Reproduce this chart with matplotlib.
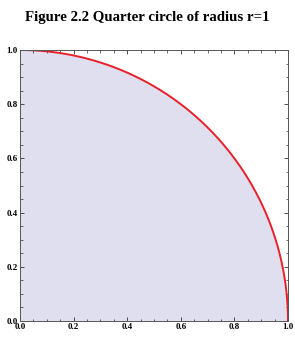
import numpy as np
import matplotlib
matplotlib.use("Agg")
import matplotlib.pyplot as plt
from matplotlib.ticker import MultipleLocator

title = "Figure 2.2 Quarter circle of radius r=1"
radius = 1.0
tick_values = [0.0, 0.2, 0.4, 0.6, 0.8, 1.0]
tick_labels = ["0.0", "0.2", "0.4", "0.6", "0.8", "1.0"]

theta = np.linspace(0, np.pi / 2, 400)
x = radius * np.cos(theta)
y = radius * np.sin(theta)
order = np.argsort(x)
x, y = x[order], y[order]

plt.rcParams['font.family'] = ['Liberation Serif', 'DejaVu Serif']

fig = plt.figure(figsize=(2.95, 3.46), dpi=100)
ax = fig.add_axes([20/295, 1-321/346, 268/295, 271/346])
ax.fill_between(x, 0, y, color='#e0dff0', lw=0)
ax.plot(x, y, color='#e8202a', lw=1.4, solid_capstyle='butt')
ax.set_xlim(0, 1)
ax.set_ylim(0, 1)
ax.set_xticks(tick_values)
ax.set_yticks(tick_values)
ax.set_xticklabels(tick_labels, fontweight='bold')
ax.set_yticklabels(tick_labels, fontweight='bold')
ax.xaxis.set_minor_locator(MultipleLocator(0.05))
ax.yaxis.set_minor_locator(MultipleLocator(0.05))
ax.tick_params(which='both', direction='in', top=True, right=True, labelsize=6.5, pad=1.5, color='#333333')
ax.tick_params(which='major', length=3, width=0.6)
ax.tick_params(which='minor', length=1.8, width=0.5)
for s in ax.spines.values():
    s.set_linewidth(0.7)
    s.set_color('#555555')

fig.text(0.5, 1-18/346, title, ha='center', va='center', fontsize=10.7, fontweight='bold')
fig.savefig('out.png', dpi=100)
